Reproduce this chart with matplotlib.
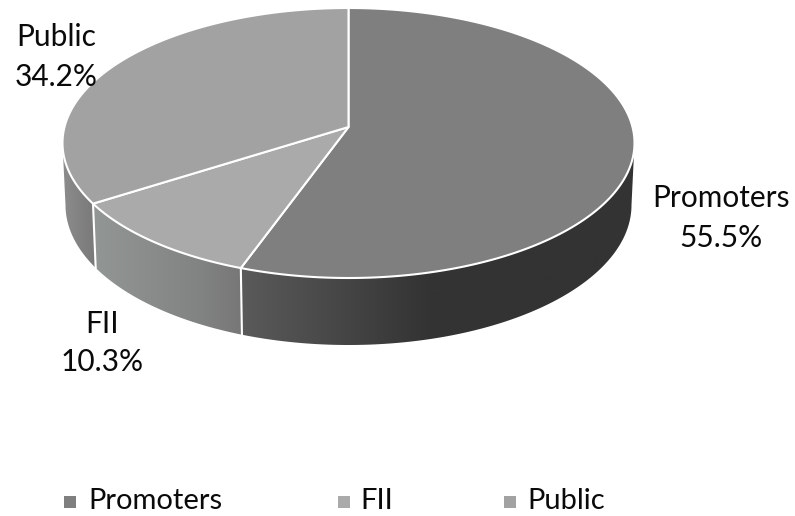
import numpy as np
import matplotlib
matplotlib.use("Agg")
import matplotlib.pyplot as plt
from matplotlib.patches import Polygon
from matplotlib.colors import LinearSegmentedColormap

categories = ["Promoters", "FII", "Public"]
values = [55.5, 10.3, 34.2]
top_colors = ["#7f7f7f", "#aaaaaa", "#a2a2a2"]
side_stops = [
    [(0.0, "#5a5a5a"), (0.18, "#4c4c4c"), (0.48, "#333333"), (1.0, "#333333")],
    [(0.0, "#929694"), (0.7, "#828483"), (1.0, "#777777")],
    [(0.0, "#8c8c8c"), (1.0, "#787878")],
]

W, H = 795, 516
fig = plt.figure(figsize=(W / 100, H / 100), dpi=100)
ax = fig.add_axes([0, 0, 1, 1])
font = ["Lato", "DejaVu Sans"]
FS_LABEL = 21.5
FS_LEGEND = 21
TC = "#0a0a0a"

cx, cy, rx, ry = 348.5, 143, 286, 135
bcy, brx, bry = 205, 283, 140
apex = (348.5, 127)
wall_lo, wall_hi = 82, 261.7

def warp(theta):
    r = np.radians(theta)
    return np.radians(theta + 7.5 * np.sin(r) ** 2 + 1.5 * np.sin(r / 2) ** 2)

def top_pt(theta):
    t = warp(theta)
    return cx + rx * np.sin(t), cy - ry * np.cos(t)

def bot_pt(theta):
    t = warp(theta)
    return cx + brx * np.sin(t), bcy - bry * np.cos(t)

edges = np.concatenate([[0], np.cumsum(values)]) * 3.6

# side walls, each with a horizontal gradient
for i in range(3):
    lo, hi = max(edges[i], wall_lo), min(edges[i + 1], wall_hi)
    th = np.linspace(lo, hi, 240)
    x, y = top_pt(th)
    xb, yb = bot_pt(th)
    poly = Polygon(np.r_[np.c_[x, y], np.c_[xb[::-1], yb[::-1]]], closed=True, fc="none", ec="none")
    ax.add_patch(poly)
    cmap = LinearSegmentedColormap.from_list("s%d" % i, side_stops[i])
    grad = np.linspace(0, 1, 256).reshape(1, -1)
    x0, x1 = min(x.min(), xb.min()), max(x.max(), xb.max())
    im = ax.imshow(grad, extent=[x0, x1, yb.max(), y.min()], cmap=cmap, aspect="auto",
                   zorder=1, vmin=0, vmax=1, origin="upper")
    im.set_clip_path(poly)

# seams on the side wall
for e in edges[1:-1]:
    xa, ya = top_pt(e)
    xb, yb = bot_pt(e)
    ax.plot([xa, xb], [ya, yb], color="white", lw=1.5, zorder=2)

# top face
for i in range(3):
    th = np.linspace(edges[i], edges[i + 1], 240)
    x, y = top_pt(th)
    ax.add_patch(Polygon(np.r_[[apex], np.c_[x, y]], closed=True, fc=top_colors[i], ec="white",
                         lw=1.5, zorder=3, joinstyle="round"))

ax.set_xlim(0, W)
ax.set_ylim(H, 0)
ax.axis("off")

# data labels
label_pos = [(721, 198, 238), (102, 324, 362), (56, 37, 77)]
for name, v, (lx, y1, y2) in zip(categories, values, label_pos):
    ax.text(lx, y1, name, fontsize=FS_LABEL, family=font, ha="center", va="center", color=TC, zorder=5)
    ax.text(lx, y2, f"{v}%", fontsize=FS_LABEL, family=font, ha="center", va="center", color=TC, zorder=5)

# legend
for name, c, sx, tx in zip(categories, top_colors, [69.5, 343.5, 509.5], [88, 360, 527]):
    ax.scatter([sx], [501.5], marker="s", s=66, color=c, linewidths=0, zorder=5)
    ax.text(tx, 501, name, fontsize=FS_LEGEND, family=font, ha="left", va="center", color=TC)

fig.savefig("out.png", dpi=100, facecolor="white")
